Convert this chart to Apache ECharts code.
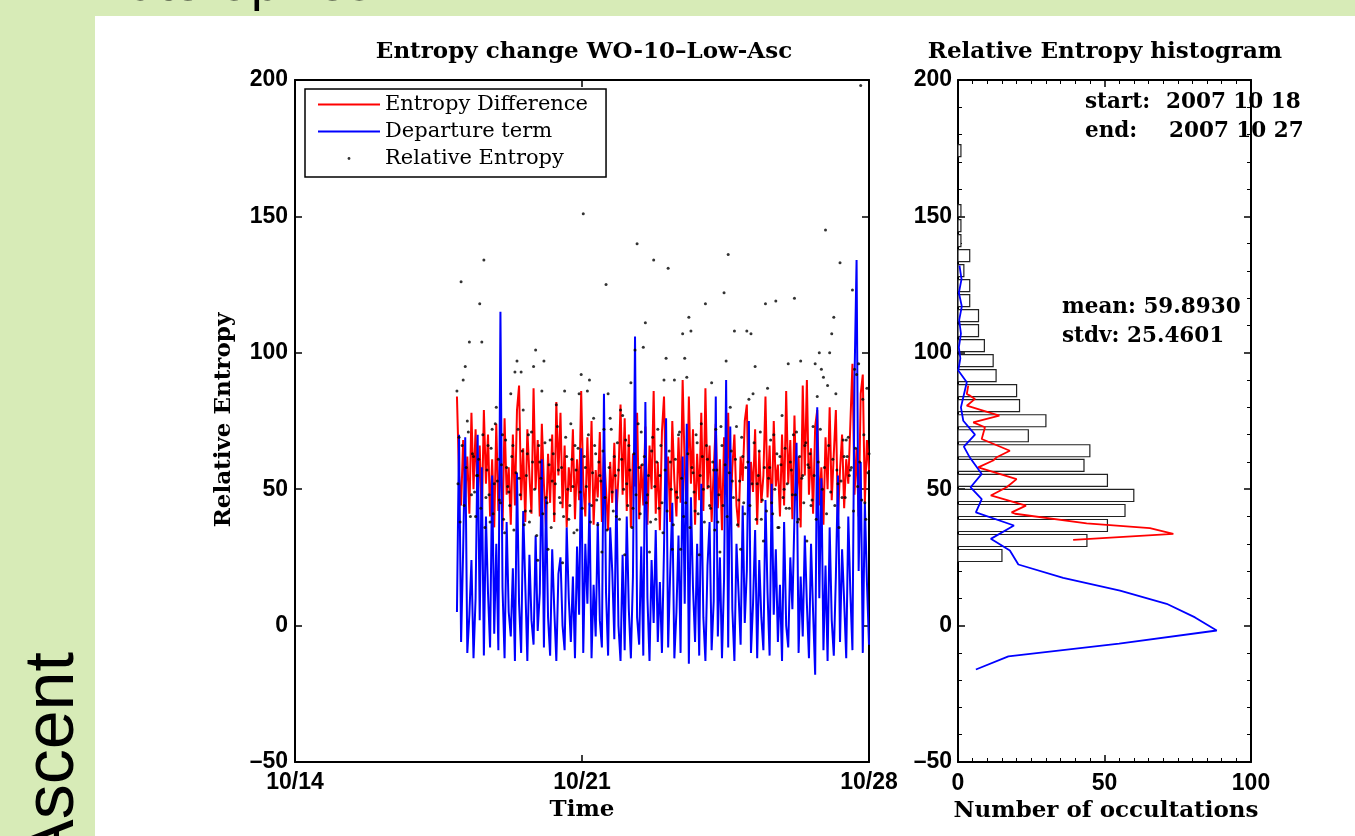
<!DOCTYPE html>
<html><head><meta charset="utf-8">
<script src="https://cdn.jsdelivr.net/npm/echarts@6/dist/echarts.min.js"></script>
<style>html,body{margin:0;padding:0;background:#d7ebb7;overflow:hidden}#c{width:1355px;height:836px}</style>
</head><body><div id="c"></div>
<script>
// ---- time axis (days after 10/14 00:00) ----
const timeTickLabels = ['10/14', '10/21', '10/28'];
const startDay = 3.95, endDay = 14.0;

// ---- left panel: time series (evenly sampled occultations) ----
const entropyDiff = [
 84,55,44,68,47,62,41,78,50,72, 45,66,38,79,52,70,40,61,36,74,
 42,63,35,76,48,58,37,70,44,79, 88,46,65,38,72,55,41,87,50,68,
 40,74,52,36,63,45,70,38,82,55, 78,43,66,36,58,49,72,39,61,46,
 86,52,40,69,44,75,37,57,47,71, 38,64,50,35,60,45,67,40,55,81,
 48,76,42,70,36,63,51,78,39,59, 44,73,37,66,50,86,41,60,35,71,
 84,47,62,38,75,53,40,69,45,90, 58,40,84,52,72,37,63,46,78,42,
 87,50,66,38,57,74,43,61,35,69, 48,78,40,58,70,44,36,62,53,75,
 81,42,60,49,72,37,64,45,55,84, 47,66,38,75,51,59,40,70,44,86,
 52,68,39,77,46,62,36,88,55,90, 48,65,41,73,79,44,58,37,69,50,
 80,46,63,79,39,57,70,43,61,52, 74,96,48,65,40,85,92,45,68,57];
const departure = [
 5,70,-6,28,69,-10,4,24,-12,10, 70,2,58,-11,40,12,-8,55,-3,30,
 -9,115,14,-12,38,5,-4,21,-13,56, 8,-10,42,15,-13,26,2,-7,33,-2,
 12,61,-8,47,3,-11,28,6,-13,19, 25,0,-9,36,10,-6,18,-12,29,4,
 65,-10,30,8,45,-12,15,-4,38,2, -8,85,12,-11,36,20,-5,50,0,-13,
 26,-9,40,6,-12,18,106,3,-7,29, -11,82,10,-13,24,1,35,-6,16,-10,
 28,76,-8,20,45,-12,5,33,-10,62, 8,74,-14,47,14,-6,30,-11,52,3,
 -13,22,38,-9,9,84,-4,25,-12,17, 90,-8,73,6,-13,30,12,-7,44,1,
 20,75,-10,8,35,-12,24,3,-9,46, 12,-11,52,4,28,-6,15,-13,38,0,
 -8,25,6,40,67,-10,18,-4,33,8, -12,30,5,-18,80,10,54,-9,22,-13,
 36,2,-11,18,55,-6,28,9,-12,40, 12,-9,90,134,20,60,-10,45,16,-7];
const relEntropyA = [
 86,69,126,90,95,75,104,48,62,40, 55,118,104,134,47,66,38,72,52,80,
 61,45,70,34,58,49,85,66,93,97, 54,93,79,42,63,38,71,95,101,24,
 60,86,97,47,28,68,53,41,81,57, 45,23,86,62,39,74,51,66,35,85,
 92,151,58,86,90,44,76,63,37,55, 27,72,125,85,76,49,62,40,57,79,
 77,26,52,66,89,43,101,140,58,71, 102,111,48,27,64,134,39,72,55,45,
 90,98,131,60,28,90,49,70,28,107, 98,91,113,108,56,42,67,26,74,50,
 118,61,44,89,57,72,38,27,66,122, 97,136,80,53,108,73,46,28,62,41,
 108,83,107,85,95,52,64,39,31,118, 87,58,45,70,119,36,62,77,50,43,
 96,60,48,120,71,39,97,55,66,31, 58,44,73,96,84,100,94,91,145,88,
 100,107,113,85,52,133,47,62,68,69, 57,123,94,92,96,198,83,45,87,63];
const relEntropyB = [
 52,38,66,44,58,71,40,63,49,55, 61,43,70,36,57,48,65,41,74,53,
 46,59,39,68,51,44,62,35,56,72, 48,64,37,55,70,42,60,50,33,66,
 54,41,67,45,59,36,63,52,73,47, 58,40,69,50,44,61,34,57,65,49,
 43,62,51,70,38,56,66,46,60,53, 64,47,35,58,72,42,55,67,39,61,
 50,68,44,57,36,63,48,74,41,59, 62,45,55,38,69,51,60,43,66,34,
 57,42,64,50,37,61,47,71,54,40, 45,63,36,58,49,70,41,55,62,38,
 66,51,43,60,35,57,48,73,44,59, 40,56,64,47,61,37,53,69,45,58,
 60,44,52,67,39,55,71,46,58,42, 54,68,41,50,63,36,59,47,65,52,
 43,57,70,48,38,62,54,45,67,59, 63,46,55,39,60,72,50,58,41,66,
 49,61,44,57,36,53,68,47,62,55, 58,42,65,51,60,46,70,39,56];

// ---- right panel: histogram ----
const histBinCenters = [174.1,152.1,146.6,141.1,135.6,130.1,124.6,119.1,113.6,108.1,102.6,97.1,91.6,86.1,80.6,75.1,69.6,64.1,58.7,53.2,47.7,42.2,36.7,31.2,25.7];
const histCounts     = [1,1,1,1,4,2,4,4,7,7,9,12,13,20,21,30,24,45,43,51,60,57,51,44,15];
const histBinHalf = 2.2;
const diffCurveCounts = [3.5,3.0,4.1,5.8,3.0,14.1,5.2,9.2,8.1,17.7,13.2,12.0,6.9,20.0,16.6,11.2,23.2,18.3,19.5,43.9,65.5,73.5,39.3];
const diffCurveValues = [88.0,84.9,84.3,83.1,80.6,77.0,74.5,72.7,68.4,64.1,61.7,60.5,58.0,53.7,50.7,47.7,44.0,41.5,41.0,37.5,35.7,33.6,31.4];
const depCurveCounts = [0.5,1.2,0.3,1.3,0.4,1.0,0.3,0.8,0.1,3.0,1.8,1.0,1.8,5.8,2.0,4.1,8.1,4.3,8.1,6.1,19.1,11.2,17.7,20.6,35.9,55.3,71.2,80.9,88.3,55.0,17.2,6.1];
const depCurveValues = [132,127,122,117,112,107,102,98,93.5,89.2,83.7,80.0,75.1,70.0,65.6,61.5,55.6,50.7,46.4,41.5,36.7,31.8,27.5,22.4,17.5,12.8,8.0,3.0,-1.8,-6.6,-11.3,-16.1];
const statsText = {start: '2007 10 18', end: '2007 10 27', mean: '59.8930', stdv: '25.4601'};

// ---------------------------------------------------------------
const chart = echarts.init(document.getElementById('c'));
const N = entropyDiff.length;
const dt = (endDay - startDay) / (N - 1);
const tA = i => startDay + i * dt;
const tB = i => startDay + (i + 0.5) * dt;

const tickFont = {fontFamily: 'Liberation Sans', fontWeight: 'bold', fontSize: 23, color: '#000'};
const serifT = 'bold 23px "DejaVu Serif"';
const serifA = 'bold 21.5px "DejaVu Serif"';
const axLine = {show: true, onZero: false, lineStyle: {color: '#000', width: 2}};
const tick = len => ({show: true, inside: true, length: len, lineStyle: {color: '#000', width: 1.5}});
const minor = n => ({show: true, splitNumber: n, length: 4, lineStyle: {color: '#000', width: 1}});
const dash = v => String(v).replace('-', '\u2013');
const lineIcon = 'path://M0,0M62,14M0,6L62,6L62,8L0,8Z';
const dotIcon = 'path://M0,0M62,14M29.6,7a1.4,1.4 0 1,0 2.8,0a1.4,1.4 0 1,0 -2.8,0z';

function txt(x, y, text, font, align, rot) {
  return {type: 'text', x, y, rotation: rot || 0, z: 100,
    style: {text, font, fill: '#000', align: align || 'center', verticalAlign: 'middle'}};
}

const option = {
  animation: false,
  backgroundColor: 'transparent',
  grid: [
    {left: 295, top: 80, width: 574, height: 682},
    {left: 958, top: 80, width: 293, height: 682}
  ],
  xAxis: [
    {type: 'value', gridIndex: 0, min: 0, max: 14, interval: 7, position: 'bottom',
     axisLine: axLine, axisTick: tick(7), splitLine: {show: false},
     axisLabel: Object.assign({margin: 9, showMinLabel: true, showMaxLabel: true,
       formatter: v => timeTickLabels[Math.round(v / 7)]}, tickFont)},
    {type: 'value', gridIndex: 0, min: 0, max: 14, interval: 7, position: 'top',
     axisLine: axLine, axisTick: tick(7), axisLabel: {show: false}, splitLine: {show: false}},
    {type: 'value', gridIndex: 1, min: 0, max: 100, interval: 50, position: 'bottom',
     axisLine: axLine, axisTick: tick(7), splitLine: {show: false}, minorTick: minor(10),
     axisLabel: Object.assign({margin: 10, showMinLabel: true, showMaxLabel: true}, tickFont)},
    {type: 'value', gridIndex: 1, min: 0, max: 100, interval: 50, position: 'top',
     axisLine: axLine, axisTick: tick(7), axisLabel: {show: false}, splitLine: {show: false},
     minorTick: minor(10)}
  ],
  yAxis: [
    {type: 'value', gridIndex: 0, min: -50, max: 200, interval: 50, position: 'left',
     axisLine: axLine, axisTick: tick(7), splitLine: {show: false},
     axisLabel: Object.assign({margin: 7, formatter: dash}, tickFont)},
    {type: 'value', gridIndex: 0, min: -50, max: 200, interval: 50, position: 'right',
     axisLine: axLine, axisTick: tick(7), axisLabel: {show: false}, splitLine: {show: false}},
    {type: 'value', gridIndex: 1, min: -50, max: 200, interval: 50, position: 'left',
     axisLine: axLine, axisTick: tick(7), splitLine: {show: false}, minorTick: minor(5),
     axisLabel: Object.assign({margin: 6, formatter: dash}, tickFont)},
    {type: 'value', gridIndex: 1, min: -50, max: 200, interval: 50, position: 'right',
     axisLine: axLine, axisTick: tick(7), axisLabel: {show: false}, splitLine: {show: false},
     minorTick: minor(5)}
  ],
  legend: {
    orient: 'vertical', left: 305, top: 89, itemWidth: 62, itemHeight: 14, itemGap: 6,
    padding: [5, 18, 8, 13], borderColor: '#000', borderWidth: 1.5, backgroundColor: '#fff',
    selectedMode: false,
    textStyle: {fontFamily: 'DejaVu Serif', fontSize: 21, color: '#000', lineHeight: 21},
    data: [
      {name: 'Entropy Difference', icon: lineIcon},
      {name: 'Departure term', icon: lineIcon},
      {name: 'Relative Entropy', icon: dotIcon}
    ]
  },
  graphic: [
    {type: 'rect', shape: {x: 95, y: 16, width: 1260, height: 820}, style: {fill: '#fff'}, z: -10, silent: true},
    txt(92, -14, 'Rate Spikes', '52px "Liberation Sans"', 'left'),
    txt(54, 759, 'Ascent', '70px "Liberation Sans"', 'center', Math.PI / 2),
    txt(584, 52, 'Entropy change WO-10\u2013Low-Asc', serifT),
    txt(1105, 52, 'Relative Entropy histogram', serifT),
    txt(582, 810, 'Time', serifT),
    txt(1106, 811, 'Number of occultations', serifT),
    txt(224, 420, 'Relative Entropy', serifT, 'center', Math.PI / 2),
    txt(1085, 102, 'start:', serifA, 'left'),
    txt(1166, 102, statsText.start, serifA, 'left'),
    txt(1085, 131, 'end:', serifA, 'left'),
    txt(1169, 131, statsText.end, serifA, 'left'),
    txt(1062, 307, 'mean: ' + statsText.mean, serifA, 'left'),
    txt(1062, 336, 'stdv: ' + statsText.stdv, serifA, 'left')
  ],
  series: [
    {name: 'Entropy Difference', type: 'line', xAxisIndex: 0, yAxisIndex: 0, symbol: 'none',
     data: entropyDiff.map((v, i) => [tA(i), v]), lineStyle: {color: '#ff0000', width: 2},
     itemStyle: {color: '#ff0000'}, z: 2},
    {name: 'Departure term', type: 'line', xAxisIndex: 0, yAxisIndex: 0, symbol: 'none',
     data: departure.map((v, i) => [tA(i), v]), lineStyle: {color: '#0000ff', width: 2},
     itemStyle: {color: '#0000ff'}, z: 3},
    {name: 'Relative Entropy', type: 'scatter', xAxisIndex: 0, yAxisIndex: 0, symbolSize: 3,
     data: relEntropyA.map((v, i) => [tA(i), v]), itemStyle: {color: '#000'}, z: 4},
    {name: 'Relative Entropy', type: 'scatter', xAxisIndex: 0, yAxisIndex: 0, symbolSize: 3,
     data: relEntropyB.map((v, i) => [tB(i), v]), itemStyle: {color: '#000'}, z: 4},
    {name: 'hist', type: 'custom', xAxisIndex: 2, yAxisIndex: 2, z: 2,
     data: histBinCenters.map((c, i) => [histCounts[i], c]),
     renderItem: (params, api) => {
       const n = api.value(0), c = api.value(1);
       const p0 = api.coord([0, c + histBinHalf]);
       const p1 = api.coord([n, c - histBinHalf]);
       return {type: 'rect', shape: {x: p0[0], y: p0[1], width: p1[0] - p0[0], height: p1[1] - p0[1]},
         style: {fill: '#fff', stroke: '#222', lineWidth: 1.2}};
     }},
    {name: 'hist diff', type: 'line', xAxisIndex: 2, yAxisIndex: 2, symbol: 'none', z: 3,
     data: diffCurveCounts.map((n, i) => [n, diffCurveValues[i]]),
     lineStyle: {color: '#ff0000', width: 1.8}},
    {name: 'hist dep', type: 'line', xAxisIndex: 2, yAxisIndex: 2, symbol: 'none', z: 3,
     data: depCurveCounts.map((n, i) => [n, depCurveValues[i]]),
     lineStyle: {color: '#0000ff', width: 1.8}}
  ]
};
chart.setOption(option);
</script>
</body></html>
